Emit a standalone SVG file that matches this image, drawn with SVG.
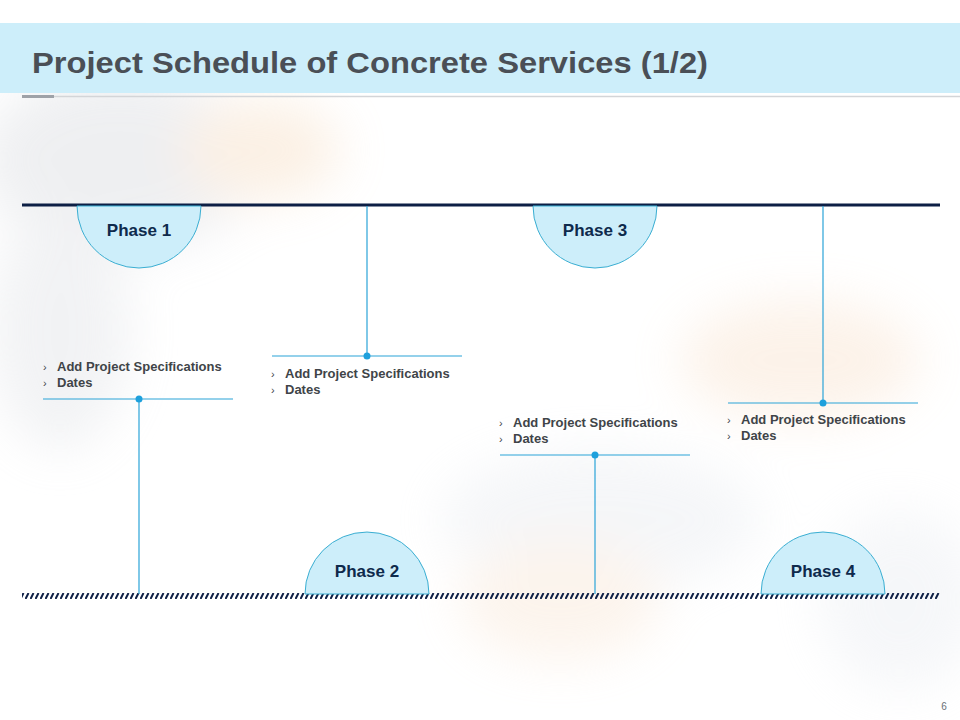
<svg xmlns="http://www.w3.org/2000/svg" width="960" height="720" viewBox="0 0 960 720">
<defs>
<style>
.title{font-family:"Liberation Sans",Arial,sans-serif;font-weight:bold;font-size:30px;fill:#4a4f56}
.ph{font-family:"Liberation Sans",Arial,sans-serif;font-weight:bold;font-size:17px;fill:#0e2a4c;text-anchor:middle}
.tx{font-family:"Liberation Sans",Arial,sans-serif;font-weight:bold;font-size:13px;fill:#404448}
.bl{font-family:"Liberation Sans",Arial,sans-serif;font-size:11px;fill:#404448}
.semi{fill:#cdeefa;stroke:#3aaed2;stroke-width:1}
.conn{stroke:#2aa3d8;stroke-width:1.2;fill:none}
.dot{fill:#1ea0dc}
</style>
<pattern id="hatch" x="0" y="593" width="5" height="6" patternUnits="userSpaceOnUse">
<line x1="0.5" y1="6" x2="3.5" y2="0" stroke="#0d1f45" stroke-width="2"/>
</pattern>
<filter id="blur" x="-50%" y="-50%" width="200%" height="200%"><feGaussianBlur stdDeviation="25"/></filter>
</defs>
<rect width="960" height="720" fill="#ffffff"/>
<g id="background" filter="url(#blur)" opacity="0.3">
<ellipse cx="120" cy="160" rx="140" ry="90" fill="#c9ccd3"/>
<ellipse cx="60" cy="330" rx="70" ry="120" fill="#d4d7dd"/>
<ellipse cx="260" cy="150" rx="80" ry="50" fill="#f3cfa8"/>
<ellipse cx="800" cy="360" rx="120" ry="60" fill="#f6d6b8"/>
<ellipse cx="600" cy="520" rx="160" ry="70" fill="#dfe3ea"/>
<ellipse cx="560" cy="600" rx="100" ry="60" fill="#f6dcc3"/>
<ellipse cx="900" cy="600" rx="80" ry="90" fill="#e1e5ec"/>
</g>
<g id="header">
<rect x="0" y="23" width="960" height="70" fill="#cdeefa"/>
<text class="title" x="32" y="73" textLength="676" lengthAdjust="spacingAndGlyphs">Project Schedule of Concrete Services (1/2)</text>
<line x1="22" y1="96.5" x2="960" y2="96.5" stroke="#d3d5d8" stroke-width="1.5"/>
<line x1="22" y1="96.5" x2="54" y2="96.5" stroke="#9ea2a8" stroke-width="3"/>
</g>
<g id="timelines">
<line x1="22" y1="205" x2="940" y2="205" stroke="#0d1f45" stroke-width="3"/>
<rect x="22" y="593" width="918" height="6" fill="url(#hatch)"/>
</g>
<g id="connectors">
<line class="conn" x1="139" y1="399" x2="139" y2="594"/>
<line class="conn" x1="43" y1="399" x2="233" y2="399"/>
<line class="conn" x1="367" y1="206" x2="367" y2="356"/>
<line class="conn" x1="272" y1="356" x2="462" y2="356"/>
<line class="conn" x1="595" y1="455" x2="595" y2="594"/>
<line class="conn" x1="500" y1="455" x2="690" y2="455"/>
<line class="conn" x1="823" y1="206" x2="823" y2="403"/>
<line class="conn" x1="728" y1="403" x2="918" y2="403"/>
<circle class="dot" cx="139" cy="399" r="3.5"/>
<circle class="dot" cx="367" cy="356" r="3.5"/>
<circle class="dot" cx="595" cy="455" r="3.5"/>
<circle class="dot" cx="823" cy="403" r="3.5"/>
</g>
<g id="phase1">
<path class="semi" d="M77 206 A62 62 0 0 0 201 206 Z"/>
<text class="ph" x="139" y="236">Phase 1</text>
</g>
<g id="phase3">
<path class="semi" d="M533 206 A62 62 0 0 0 657 206 Z"/>
<text class="ph" x="595" y="236">Phase 3</text>
</g>
<g id="phase2">
<path class="semi" d="M305 594 A62 62 0 0 1 429 594 Z"/>
<text class="ph" x="367" y="577">Phase 2</text>
</g>
<g id="phase4">
<path class="semi" d="M761 594 A62 62 0 0 1 885 594 Z"/>
<text class="ph" x="823" y="577">Phase 4</text>
</g>
<g id="text1">
<text class="bl" x="43" y="371">›</text><text class="tx" x="57" y="371">Add Project Specifications</text>
<text class="bl" x="43" y="387">›</text><text class="tx" x="57" y="387">Dates</text>
</g>
<g id="text2">
<text class="bl" x="271" y="378">›</text><text class="tx" x="285" y="378">Add Project Specifications</text>
<text class="bl" x="271" y="394">›</text><text class="tx" x="285" y="394">Dates</text>
</g>
<g id="text3">
<text class="bl" x="499" y="427">›</text><text class="tx" x="513" y="427">Add Project Specifications</text>
<text class="bl" x="499" y="443">›</text><text class="tx" x="513" y="443">Dates</text>
</g>
<g id="text4">
<text class="bl" x="727" y="424">›</text><text class="tx" x="741" y="424">Add Project Specifications</text>
<text class="bl" x="727" y="440">›</text><text class="tx" x="741" y="440">Dates</text>
</g>
<text x="944" y="710" font-family="Liberation Sans,Arial,sans-serif" font-size="10" fill="#6b6f75" text-anchor="middle">6</text>
</svg>
